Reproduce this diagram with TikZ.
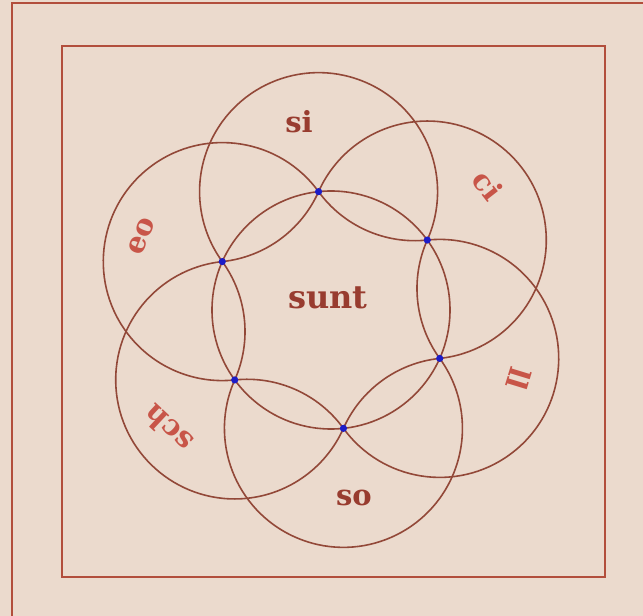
\documentclass[tikz,border=0pt]{standalone}
\usepackage{fontspec}
\newfontfamily\lblfont{DejaVu Serif}
\usepackage{xcolor}
\definecolor{parch}{HTML}{EBDACD}
\definecolor{ink}{HTML}{924838}
\definecolor{framered}{HTML}{B24E3C}
\definecolor{labeldark}{HTML}{983C2F}
\definecolor{labelred}{HTML}{C85548}
\definecolor{dotblue}{HTML}{1C1CC8}
\begin{document}
\begin{tikzpicture}[x=1pt,y=1pt,
  circ/.style={draw=ink, line width=1.6pt},
  framestyle/.style={draw=framered, line width=1.8pt},
  edgestyle/.style={draw=framered, line width=1.1pt},
  dotstyle/.style={fill=dotblue},
  lbl/.style={font=\lblfont\fontsize{29}{29}\selectfont\bfseries, inner sep=0pt},
  lbldark/.style={lbl, text=labeldark},
  lblred/.style={lbl, text=labelred}]
\fill[parch] (0,0) rectangle (643,616);
\useasboundingbox (0,0) rectangle (643,616);
% page edge and frame
\draw[edgestyle] (12,0) -- (12,613) -- (643,613);
\draw[framestyle] (62,39) rectangle (605,570);
% geometry
\coordinate (O) at (331,306);
\def\R{119}
\foreach \k/\name in {0/T,1/UR,2/LR,3/B,4/LL,5/UL}{
  \pgfmathsetmacro{\t}{96-60*\k}
  \path (O) ++(\t:\R) coordinate (\name);
}
% central circle
\draw[circ] (O) circle[radius=\R];
% outer circles (drawn outside the central circle) and inner lens arcs
\foreach \k in {0,...,5}{
  \pgfmathsetmacro{\t}{96-60*\k}
  \pgfmathsetmacro{\a}{\t-120}
  \pgfmathsetmacro{\b}{\t+120}
  \pgfmathsetmacro{\c}{\t+180}
  \draw[circ] (O) ++(\t:\R) ++(\a:\R) arc[start angle=\a, end angle=\b, radius=\R];
  \draw[circ] (O) ++(\t:\R) arc[start angle=\b, end angle=\c, radius=\R];
}
% dots
\foreach \name in {T,UR,LR,B,LL,UL}{
  \fill[dotstyle] (\name) circle[radius=3.6];
}
% labels
\node[lbldark] (lsi) at (299,494) {si};
\node[lblred, rotate=-52] (lci) at (488,431) {ci};
\node[lblred, rotate=68] (leo) at (142,380) {eo};
\node[lbldark, font=\lblfont\fontsize{32}{32}\selectfont\bfseries] (lsunt) at (328,318) {sunt};
\node[lblred, rotate=-107] (lll) at (519,237) {ll};
\node[lblred, rotate=137] (lsch) at (168,187) {sch};
\node[lbldark] (lso) at (354,118) {so};
\end{tikzpicture}
\end{document}
